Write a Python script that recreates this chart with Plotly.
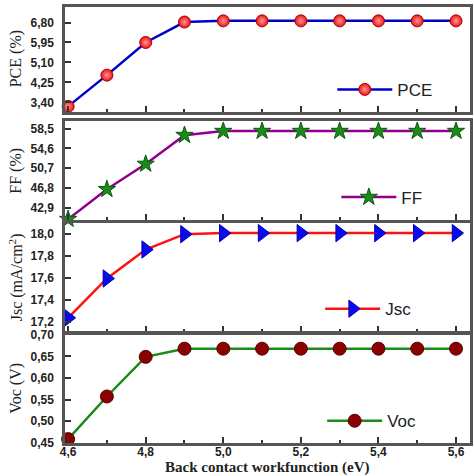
import plotly.graph_objects as go
from plotly.subplots import make_subplots

x_wf = [4.6, 4.7, 4.8, 4.9, 5.0, 5.1, 5.2, 5.3, 5.4, 5.5, 5.6]
pce = [3.23, 4.56, 5.95, 6.82, 6.87, 6.87, 6.87, 6.87, 6.87, 6.87, 6.87]
ff = [40.6, 46.5, 51.5, 57.2, 58.0, 58.0, 58.0, 58.0, 58.0, 58.0, 58.0]
jsc = [17.235, 17.595, 17.86, 18.0, 18.01, 18.01, 18.01, 18.01, 18.01, 18.01, 18.01]
voc = [0.458, 0.557, 0.649, 0.668, 0.668, 0.668, 0.668, 0.668, 0.668, 0.668, 0.668]

pce_ticks = [3.40, 4.25, 5.10, 5.95, 6.80]
pce_ticktext = ["3,40", "4,25", "5,10", "5,95", "6,80"]
ff_ticks = [42.9, 46.8, 50.7, 54.6, 58.5]
ff_ticktext = ["42,9", "46,8", "50,7", "54,6", "58,5"]
jsc_ticks = [17.2, 17.4, 17.6, 17.8, 18.0]
jsc_ticktext = ["17,2", "17,4", "17,6", "17,8", "18,0"]
voc_ticks = [0.45, 0.50, 0.55, 0.60, 0.65, 0.70]
voc_ticktext = ["0,45", "0,50", "0,55", "0,60", "0,65", "0,70"]
x_ticks = [4.6, 4.8, 5.0, 5.2, 5.4, 5.6]
x_ticktext = ["4,6", "4,8", "5,0", "5,2", "5,4", "5,6"]

fig = make_subplots(rows=4, cols=1, shared_xaxes=True)

series = [
    dict(y=pce, name="PCE", line="#0000cc", mk=dict(symbol="circle", size=12, color="#ee1111",
         line=dict(color="#aa0000", width=1), gradient=dict(type="radial", color="#ff9a9a")), legend="legend"),
    dict(y=ff, name="FF", line="#8e008e", mk=dict(symbol="star", size=13, color="#1a8a1a",
         line=dict(color="#0a5a0a", width=1)), legend="legend2"),
    dict(y=jsc, name="Jsc", line="#ff1111", mk=dict(symbol="triangle-right", size=15, color="#0a0aee",
         line=dict(color="#0000aa", width=1)), legend="legend3"),
    dict(y=voc, name="Voc", line="#1a8a1a", mk=dict(symbol="circle", size=13, color="#8b0000",
         line=dict(color="#5a0000", width=1)), legend="legend4"),
]
for i, s in enumerate(series):
    fig.add_trace(go.Scatter(x=x_wf, y=s["y"], name=s["name"], mode="lines+markers",
                             line=dict(color=s["line"], width=2.5), marker=s["mk"],
                             cliponaxis=False, legend=s["legend"]), row=i + 1, col=1)

domains = [[0.7602, 1.0], [0.5113, 0.7376], [0.2557, 0.5045], [0.0, 0.2489]]
ranges = [[3.01, 7.46], [40.42, 59.92], [17.11, 18.102], [0.449, 0.701]]
ticks = [(pce_ticks, pce_ticktext), (ff_ticks, ff_ticktext), (jsc_ticks, jsc_ticktext), (voc_ticks, voc_ticktext)]
titles = ["PCE (%)", "FF (%)", "Jsc (mA/cm<sup>2</sup>)", "Voc (V)"]
border = "#555555"
tickfont = dict(family="Arial, Liberation Sans", size=12, color="#222", weight="bold")

for i in range(4):
    fig.update_yaxes(row=i + 1, col=1, domain=domains[i], range=ranges[i],
                     tickvals=ticks[i][0], ticktext=ticks[i][1], ticks="inside", ticklen=6,
                     tickcolor="#333", tickwidth=1.5, showline=True, linecolor=border, linewidth=2.5,
                     mirror=True, showgrid=False, zeroline=False, tickfont=tickfont,
                     ticklabelstandoff=6)
    fig.update_xaxes(row=i + 1, col=1, range=[4.592, 5.636], showline=True, linecolor=border,
                     linewidth=2.5, mirror=True, showgrid=False, zeroline=False,
                     tickvals=x_ticks, ticktext=x_ticktext, ticks="inside", ticklen=6,
                     tickcolor="#333", tickwidth=1.5, tickfont=tickfont,
                     showticklabels=(i == 3), ticklabelstandoff=-4,
                     minor=dict(ticks="inside", ticklen=3, dtick=0.1, tickcolor="#333", tickwidth=1.5))
    yc = (domains[i][0] + domains[i][1]) / 2
    fig.add_annotation(x=0, xref="paper", y=yc, yref="paper", text=titles[i], textangle=-90,
                       showarrow=False, xanchor="center", yanchor="middle", xshift=-49,
                       font=dict(family="Times New Roman, Liberation Serif", size=16, color="#222"))

fig.add_annotation(x=0.5, xref="paper", y=0, yref="paper", yshift=-24, text="Back contact workfunction (eV)",
                   showarrow=False, xanchor="center", yanchor="middle",
                   font=dict(family="Times New Roman, Liberation Serif", size=15, color="#222", weight="bold"))

legfont = dict(family="Arial, Liberation Sans", size=17, color="#222")
leg_common = dict(font=legfont, bgcolor="rgba(0,0,0,0)", borderwidth=0, itemwidth=55,
                  xanchor="left", yanchor="middle", tracegroupgap=0)
fig.update_layout(
    width=474, height=476,
    margin=dict(l=65, r=2, t=1, b=33),
    paper_bgcolor="white", plot_bgcolor="white",
    showlegend=True,
    legend=dict(x=0.66, y=0.81, **leg_common),
    legend2=dict(x=0.67, y=0.563, **leg_common),
    legend3=dict(x=0.63, y=0.307, **leg_common),
    legend4=dict(x=0.635, y=0.05, **leg_common),
)

fig.write_html("out.html", config={"displayModeBar": False},
               post_script="document.body.style.margin='0';document.body.style.overflow='hidden';")
